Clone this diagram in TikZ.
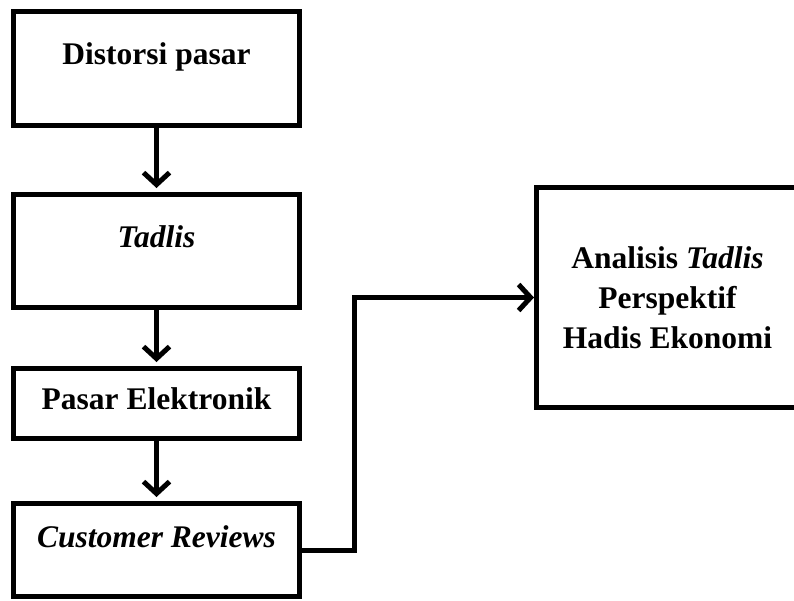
\documentclass[tikz,border=0pt]{standalone}
\usepackage{fontspec}
\setmainfont{Liberation Serif}
\usetikzlibrary{arrows.meta,positioning}

\begin{document}
\begin{tikzpicture}[x=1pt,y=-1pt,node distance=60pt,
  >={Straight Barb[length=12pt,width=26pt]},
  box/.style={draw,line width=5pt,minimum width=286pt,inner sep=0pt,
    font=\fontsize{31.5}{40}\selectfont\bfseries},
  link/.style={->,line width=5pt}]
\useasboundingbox (0,0) rectangle (794,600);

\node[box,text height=52.5pt,text depth=61.5pt] (ds) at (156.5,68.5) {Distorsi pasar};
\node[box,text height=52.5pt,text depth=60.5pt,below=64pt of ds] (td) {\itshape Tadlis};
\node[box,text height=40.5pt,text depth=29.5pt,below=56pt of td] (pe) {Pasar Elektronik};
\node[box,text height=43.5pt,text depth=49.5pt,below=of pe] (cr) {\itshape Customer Reviews};
\node[box,minimum width=262pt,minimum height=220pt,align=center] (an) at (667.5,297.5)
  {Analisis \textit{Tadlis}\\Perspektif\\Hadis Ekonomi};

\draw[link,shorten >=4pt] (ds) -- (td);
\draw[link,shorten >=4pt] (td) -- (pe);
\draw[link,shorten >=4pt] (pe) -- (cr);
\draw[link] (cr.east) -- ++(52,0) |- (an.west);
\end{tikzpicture}
\end{document}
